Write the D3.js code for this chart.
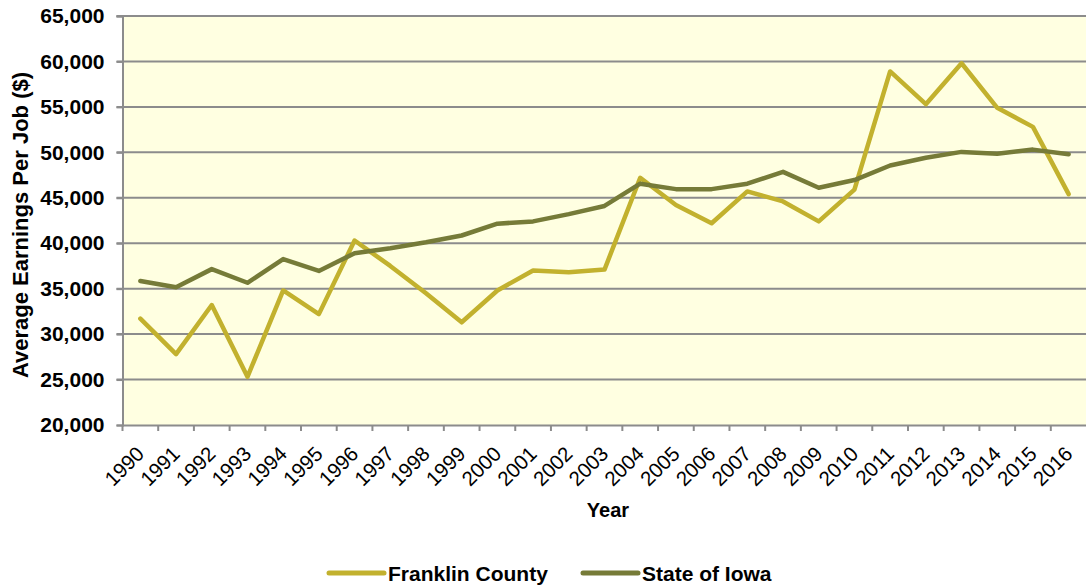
<!DOCTYPE html>
<html><head><meta charset="utf-8">
<script src="https://cdn.jsdelivr.net/npm/d3@7"></script>
<style>body{margin:0;background:#fff}svg{display:block;font-family:"Liberation Sans",Arial,sans-serif}</style>
</head><body>
<svg id="chart" width="1086" height="587"></svg>
<script>
const years = ["1990","1991","1992","1993","1994","1995","1996","1997","1998","1999","2000","2001","2002","2003","2004","2005","2006","2007","2008","2009","2010","2011","2012","2013","2014","2015","2016"];
const franklin = [31700,27800,33200,25300,34800,32200,40300,37500,34500,31300,34800,37000,36800,37100,47200,44200,42200,45700,44600,42400,45900,58900,55300,59800,54900,52800,45400];
const iowa = [35850,35150,37150,35650,38250,36950,38900,39450,40100,40850,42150,42400,43200,44100,46550,45950,45950,46550,47850,46100,46950,48550,49400,50050,49850,50300,49800];
const yTicks = [20000,25000,30000,35000,40000,45000,50000,55000,60000,65000];
const seriesNames = ["Franklin County","State of Iowa"];
const colors = ["#C2B12E","#767B38"];

const svg = d3.select("#chart");
const L = 122.5, R = 1086.5, T = 16, B = 425;
const x = d3.scaleBand().domain(years).range([L, R]);
const y = d3.scaleLinear().domain([20000, 65000]).range([B, T]);

svg.append("rect").attr("x", L).attr("y", T).attr("width", R - L).attr("height", B - T).attr("fill", "#FFFFE1");

// gridlines
svg.append("g").selectAll("line").data(yTicks.slice(1)).join("line")
  .attr("x1", L - 6).attr("x2", R).attr("y1", d => y(d)).attr("y2", d => y(d))
  .attr("stroke", "#8C8C8C").attr("stroke-width", 2);

// y axis
const yAxis = svg.append("g").attr("transform", `translate(${L},0)`)
  .call(d3.axisLeft(y).tickValues(yTicks).tickFormat(d3.format(",")).tickSize(6).tickPadding(12));
yAxis.select(".domain").attr("stroke", "#8C8C8C").attr("stroke-width", 2);
yAxis.selectAll(".tick line").attr("stroke", "#8C8C8C").attr("stroke-width", 2);
yAxis.selectAll("text").attr("font-size", 21).attr("font-weight", "bold").attr("fill", "#000")
  .attr("font-family", "'Liberation Sans', Arial, sans-serif");

// x axis
const xAxis = svg.append("g").attr("transform", `translate(0,${B})`)
  .call(d3.axisBottom(x).tickSize(0).tickFormat(""));
xAxis.select(".domain").attr("stroke", "#8C8C8C").attr("stroke-width", 2);
// tick marks at band boundaries
svg.append("g").selectAll("line").data(years).join("line")
  .attr("x1", d => x(d)).attr("x2", d => x(d)).attr("y1", B).attr("y2", B + 6)
  .attr("stroke", "#8C8C8C").attr("stroke-width", 2);
svg.append("g").selectAll("text").data(years).join("text")
  .attr("transform", d => `translate(${x(d) + x.bandwidth() / 2},${B + 25}) rotate(-45)`)
  .attr("text-anchor", "end").attr("dy", "0.35em")
  .attr("font-size", 20.5).attr("fill", "#000").text(d => d);

// lines
const line = d3.line().x((d, i) => x(years[i]) + x.bandwidth() / 2).y(d => y(d));
[franklin, iowa].forEach((s, k) => {
  svg.append("path").datum(s).attr("d", line).attr("fill", "none")
    .attr("stroke", colors[k]).attr("stroke-width", 4.5).attr("stroke-linejoin", "round").attr("stroke-linecap", "round");
});

// axis titles
svg.append("text").attr("transform", "translate(28,225) rotate(-90)").attr("text-anchor", "middle")
  .attr("font-size", 22).attr("font-weight", "bold").text("Average Earnings Per Job ($)");
svg.append("text").attr("x", 608).attr("y", 517).attr("text-anchor", "middle")
  .attr("font-size", 20).attr("font-weight", "bold").text("Year");

// legend
const legX = [329, 583];
seriesNames.forEach((n, k) => {
  svg.append("line").attr("x1", legX[k]).attr("x2", legX[k] + 55).attr("y1", 573).attr("y2", 573)
    .attr("stroke", colors[k]).attr("stroke-width", 5).attr("stroke-linecap", "round");
  svg.append("text").attr("x", legX[k] + 59).attr("y", 581).attr("font-size", 21).attr("font-weight", "bold").text(n);
});
</script>
</body></html>
